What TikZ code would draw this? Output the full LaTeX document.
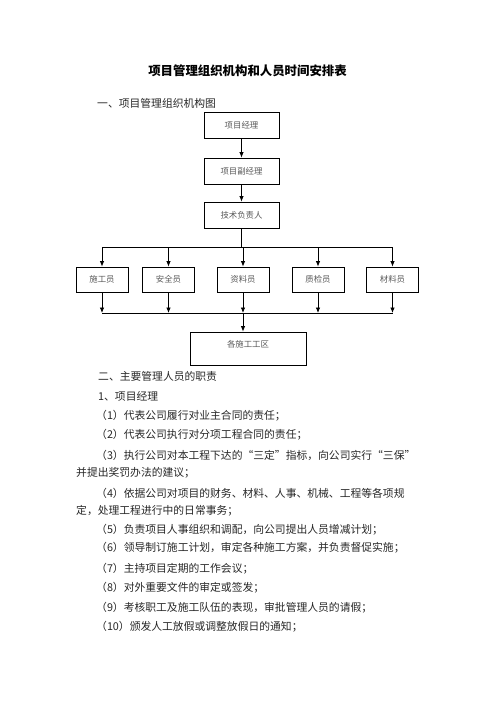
\documentclass[tikz,border=0pt]{standalone}
\usepackage{fontspec}
\newfontfamily\cjk{Noto Sans CJK SC}
\usetikzlibrary{arrows.meta,positioning}
\tikzset{
  orgbox/.style={draw=black, line width=0.8pt, inner sep=0pt, font=\cjk\fontsize{8.4}{9}\selectfont, text=black!65},
  rowbox/.style={orgbox, minimum width=52pt, minimum height=25pt},
  topbox/.style={orgbox, minimum width=75pt, minimum height=26pt},
  arrow/.style={-{Latex[length=5.5pt,width=4.5pt]}, line width=0.8pt},
  plain/.style={line width=0.8pt},
  heading/.style={anchor=west, inner sep=0pt, font=\cjk\fontsize{10.8}{12}\selectfont, text=black!85},
  bodytext/.style={anchor=west, inner sep=0pt, font=\cjk\fontsize{10.8}{12}\selectfont, text=black!85}
}
\begin{document}
\begin{tikzpicture}[x=1pt, y=-1pt]
  \useasboundingbox (0,0) rectangle (496,702);
  % title and first heading
  \node[inner sep=0pt, font=\cjk\bfseries\fontsize{12.4}{13}\selectfont] (title) at (247.5,71) {项目管理组织机构和人员时间安排表};
  \node[heading] (sec1) at (97,103) {一、项目管理组织机构图};
  % chart
  \node[topbox] (pm) at (241.5,125) {项目经理};
  \node[topbox] (dpm) at (241.5,171) {项目副经理};
  \node[topbox] (tech) at (241.5,215) {技术负责人};
  \node[rowbox] (shigong) at (102,279.5) {施工员};
  \node[rowbox] (anquan) at (168.5,279.5) {安全员};
  \node[rowbox] (ziliao) at (243,279.5) {资料员};
  \node[rowbox] (zhijian) at (318,279.5) {质检员};
  \node[rowbox] (cailiao) at (392.5,279.5) {材料员};
  \node[orgbox, minimum width=116pt, text height=15pt, text depth=18pt] (gongqu) at (248,348.5) {各施工工区};
  \coordinate (split) at (0,247);
  \coordinate (merge) at (0,313);
  \draw[arrow] (pm) -- (dpm);
  \draw[arrow] (dpm) -- (tech);
  \draw[plain] (tech.south) -- (tech.south |- split);
  \draw[plain] (shigong.north |- split) -- (cailiao.north |- split);
  \foreach \b in {shigong,anquan,ziliao,zhijian,cailiao} {
    \draw[arrow] (\b.north |- split) -- (\b.north);
    \draw[arrow] (\b.south) -- (\b.south |- merge);
  }
  \draw[plain] (shigong.south |- merge) -- (cailiao.south |- merge);
  \draw[arrow] (ziliao.south |- merge) -- (ziliao.south |- gongqu.north);
  % duties
  \node[heading] (sec2) at (98,376) {二、主要管理人员的职责};
  \node[heading] (sub1) at (98,396) {1、项目经理};
  \node[bodytext] (d1) at (96,416) {（1）代表公司履行对业主合同的责任；};
  \node[bodytext] (d2) at (96,435) {（2）代表公司执行对分项工程合同的责任；};
  \node[bodytext] (d3) at (96,455) {（3）执行公司对本工程下达的“三定”指标，向公司实行“三保”};
  \node[bodytext] (d3b) at (76,473) {并提出奖罚办法的建议；};
  \node[bodytext] (d4) at (96,493) {（4）依据公司对项目的财务、材料、人事、机械、工程等各项规};
  \node[bodytext] (d4b) at (76,511) {定，处理工程进行中的日常事务；};
  \node[bodytext] (d5) at (96,530) {（5）负责项目人事组织和调配，向公司提出人员增减计划；};
  \node[bodytext] (d6) at (96,548) {（6）领导制订施工计划，审定各种施工方案，并负责督促实施；};
  \node[bodytext] (d7) at (96,569) {（7）主持项目定期的工作会议；};
  \node[bodytext] (d8) at (96,588) {（8）对外重要文件的审定或签发；};
  \node[bodytext] (d9) at (96,608) {（9）考核职工及施工队伍的表现，审批管理人员的请假；};
  \node[bodytext] (d10) at (96,627) {（10）颁发人工放假或调整放假日的通知；};
\end{tikzpicture}
\end{document}
